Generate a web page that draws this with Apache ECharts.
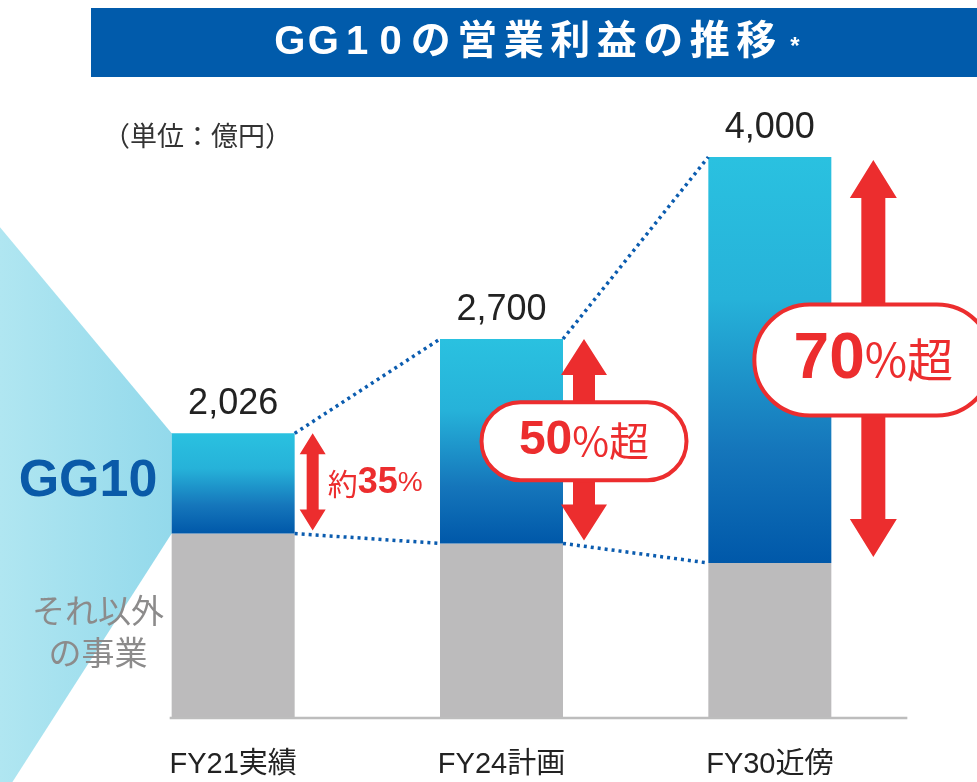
<!DOCTYPE html>
<html>
<head>
<meta charset="utf-8">
<script src="https://cdn.jsdelivr.net/npm/echarts@6/dist/echarts.min.js"></script>
<style>
  html, body { margin: 0; padding: 0; background: #fff; }
  #main { width: 977px; height: 782px; }
</style>
</head>
<body>
<div id="main"></div>
<script>
// data (億円)
const categories = ['FY21実績', 'FY24計画', 'FY30近傍'];
const otherValues = [1310, 1240, 1100];   // それ以外の事業
const gg10Values = [716, 1460, 2900];     // GG10
const totalLabels = ['2,026', '2,700', '4,000'];
const shareNums = ['35', '50', '70'];

const FONT = '"Liberation Sans", Arial, "Noto Sans CJK JP", sans-serif';
const RED = '#ec2d2e';
const BAR_W = 123;

let chart = echarts.init(document.getElementById('main'));

let option = {
    animation: false,
    grid: { left: 99, right: 73, top: 87, bottom: 65 },
    xAxis: {
        type: 'category',
        data: categories,
        axisLine: { show: false },
        axisTick: { show: false },
        axisLabel: {
            margin: 33,
            fontSize: 29,
            color: '#222',
            fontFamily: '"Liberation Sans Narrow", "Liberation Sans", "Noto Sans CJK JP", sans-serif'
        }
    },
    yAxis: {
        type: 'value',
        min: 0,
        max: 4500,
        show: false,
        splitLine: { show: false }
    },
    series: [
        {
            name: 'それ以外の事業',
            type: 'bar',
            stack: 'total',
            barWidth: BAR_W,
            data: otherValues,
            itemStyle: { color: '#bcbbbc' }
        },
        {
            name: 'GG10',
            type: 'bar',
            stack: 'total',
            barWidth: BAR_W,
            data: gg10Values,
            itemStyle: {
                color: new echarts.graphic.LinearGradient(0, 0, 0, 1, [
                    { offset: 0, color: '#2ac1e0' },
                    { offset: 0.35, color: '#26b2d9' },
                    { offset: 0.72, color: '#1576bb' },
                    { offset: 1, color: '#0058a9' }
                ])
            },
            label: {
                show: true,
                position: 'top',
                distance: 11,
                fontSize: 36,
                color: '#222',
                fontFamily: FONT,
                formatter: function (p) { return totalLabels[p.dataIndex]; }
            }
        }
    ]
};
chart.setOption(option);

function arrowPoints(x, y1, y2, hw, hh, sw) {
    return [
        [x, y1], [x + hw / 2, y1 + hh], [x + sw / 2, y1 + hh], [x + sw / 2, y2 - hh],
        [x + hw / 2, y2 - hh], [x, y2], [x - hw / 2, y2 - hh], [x - sw / 2, y2 - hh],
        [x - sw / 2, y1 + hh], [x - hw / 2, y1 + hh]
    ];
}

function build_overlay() {
    let g = [];
    let px = (i, v) => chart.convertToPixel({ xAxisIndex: 0, yAxisIndex: 0 }, [i, v]);
    let half = BAR_W / 2;
    let bars = categories.map((c, i) => {
        let top = px(i, otherValues[i] + gg10Values[i]);
        return {
            cx: top[0],
            top: top[1],
            mid: px(i, otherValues[i])[1],
            base: px(i, 0)[1]
        };
    });

    // title band
    g.push({ type: 'rect', shape: { x: 91, y: 8, width: 900, height: 69 }, style: { fill: '#015bab' }, z: 1 });
    let title = 'GG10の営業利益の推移';
    let tx = 273;
    for (let ch of title) {
        let adv = /[A-Za-z0-9]/.test(ch) ? 33.6 : 46.5;
        g.push({
            type: 'text', x: tx + adv / 2, y: 43, z: 2,
            style: { text: ch, fill: '#fff', font: 'bold 40px ' + FONT, align: 'center', verticalAlign: 'middle' }
        });
        tx += adv;
    }
    g.push({ type: 'text', x: 795, y: 47, z: 2, style: { text: '*', fill: '#fff', font: 'bold 24px ' + FONT, align: 'center', verticalAlign: 'middle' } });

    // unit
    g.push({ type: 'text', x: 103, y: 136, style: { text: '（単位：億円）', fill: '#333', font: '27px "Noto Sans CJK JP", sans-serif', verticalAlign: 'middle' } });

    // light-blue wedge pointing at the FY21 GG10 part
    let b0 = bars[0];
    let lx = b0.cx - half;
    g.push({
        type: 'polygon', z: 0,
        shape: { points: [[0, b0.top - lx * 1.2], [lx, b0.top], [lx, b0.mid], [0, b0.mid + lx * 1.56]] },
        style: {
            fill: new echarts.graphic.LinearGradient(0, 0, 1, 0, [
                { offset: 0, color: '#b0e6f1' },
                { offset: 1, color: '#93d9eb' }
            ])
        }
    });
    g.push({ type: 'text', x: 88, y: (b0.top + b0.mid) / 2 - 2, z: 3, style: { text: 'GG10', fill: '#0a5aa8', font: 'bold 52px ' + FONT, align: 'center', verticalAlign: 'middle' } });
    g.push({
        type: 'text', x: 98, y: b0.mid + 98, z: 3,
        style: { text: 'それ以外\nの事業', fill: '#8c8b8b', font: '33px "Noto Sans CJK JP", sans-serif', align: 'center', verticalAlign: 'middle', lineHeight: 42 }
    });

    // baseline
    g.push({ type: 'line', z: 3, shape: { x1: bars[0].cx - half - 2, y1: b0.base + 1, x2: bars[2].cx + half + 76, y2: b0.base + 1 }, style: { stroke: '#bdbdbd', lineWidth: 2.5 } });

    // dotted connectors
    for (let i = 0; i < bars.length - 1; i++) {
        let a = bars[i], b = bars[i + 1];
        ['top', 'mid'].forEach(k => {
            g.push({
                type: 'line', z: 5,
                shape: { x1: a.cx + half, y1: a[k], x2: b.cx - half, y2: b[k] },
                style: { stroke: '#0b5caf', lineWidth: 3.5, lineDash: [3, 4] }
            });
        });
    }

    // red arrows
    let arrowSpec = [
        { off: 18, hw: 26, hh: 21, sw: 12, t: 0, b: 3 },
        { off: 21, hw: 46, hh: 36, sw: 22, t: 0, b: 3 },
        { off: 42, hw: 47, hh: 38, sw: 24, t: 3, b: 6 }
    ];
    bars.forEach((b, i) => {
        let s = arrowSpec[i];
        let ax = b.cx + half + s.off;
        g.push({ type: 'polygon', z: 8, shape: { points: arrowPoints(ax, b.top + s.t, b.mid - s.b, s.hw, s.hh, s.sw) }, style: { fill: RED } });
        let my = (b.top + b.mid) / 2;
        if (i === 0) {
            g.push({
                type: 'text', x: ax + 15, y: my, z: 9,
                style: {
                    text: '{a|約}{b|' + shareNums[i] + '}{c|%}',
                    verticalAlign: 'middle',
                    rich: {
                        a: { fontSize: 30, fontFamily: '"Noto Sans CJK JP", sans-serif', fill: RED },
                        b: { fontSize: 36, fontWeight: 'bold', fontFamily: FONT, fill: RED },
                        c: { fontSize: 28, fontFamily: FONT, fill: RED }
                    }
                }
            });
        } else {
            let w = i === 1 ? 205 : 238, h = i === 1 ? 78 : 111;
            let big = i === 1 ? 48 : 64, small = i === 1 ? 40 : 46;
            g.push({
                type: 'rect', z: 9,
                shape: { x: ax - w / 2, y: my - h / 2, width: w, height: h, r: h / 2 },
                style: { fill: '#fff', stroke: RED, lineWidth: 4 }
            });
            g.push({
                type: 'text', x: ax, y: my, z: 10,
                style: {
                    text: '{b|' + shareNums[i] + '}{a|%超}',
                    align: 'center', verticalAlign: 'middle',
                    rich: {
                        a: { fontSize: small, fontFamily: '"Noto Sans CJK JP", sans-serif', fill: RED },
                        b: { fontSize: big, fontWeight: 'bold', fontFamily: FONT, fill: RED }
                    }
                }
            });
        }
    });

    chart.setOption({ graphic: { elements: g } });
}

build_overlay();
</script>
</body>
</html>
